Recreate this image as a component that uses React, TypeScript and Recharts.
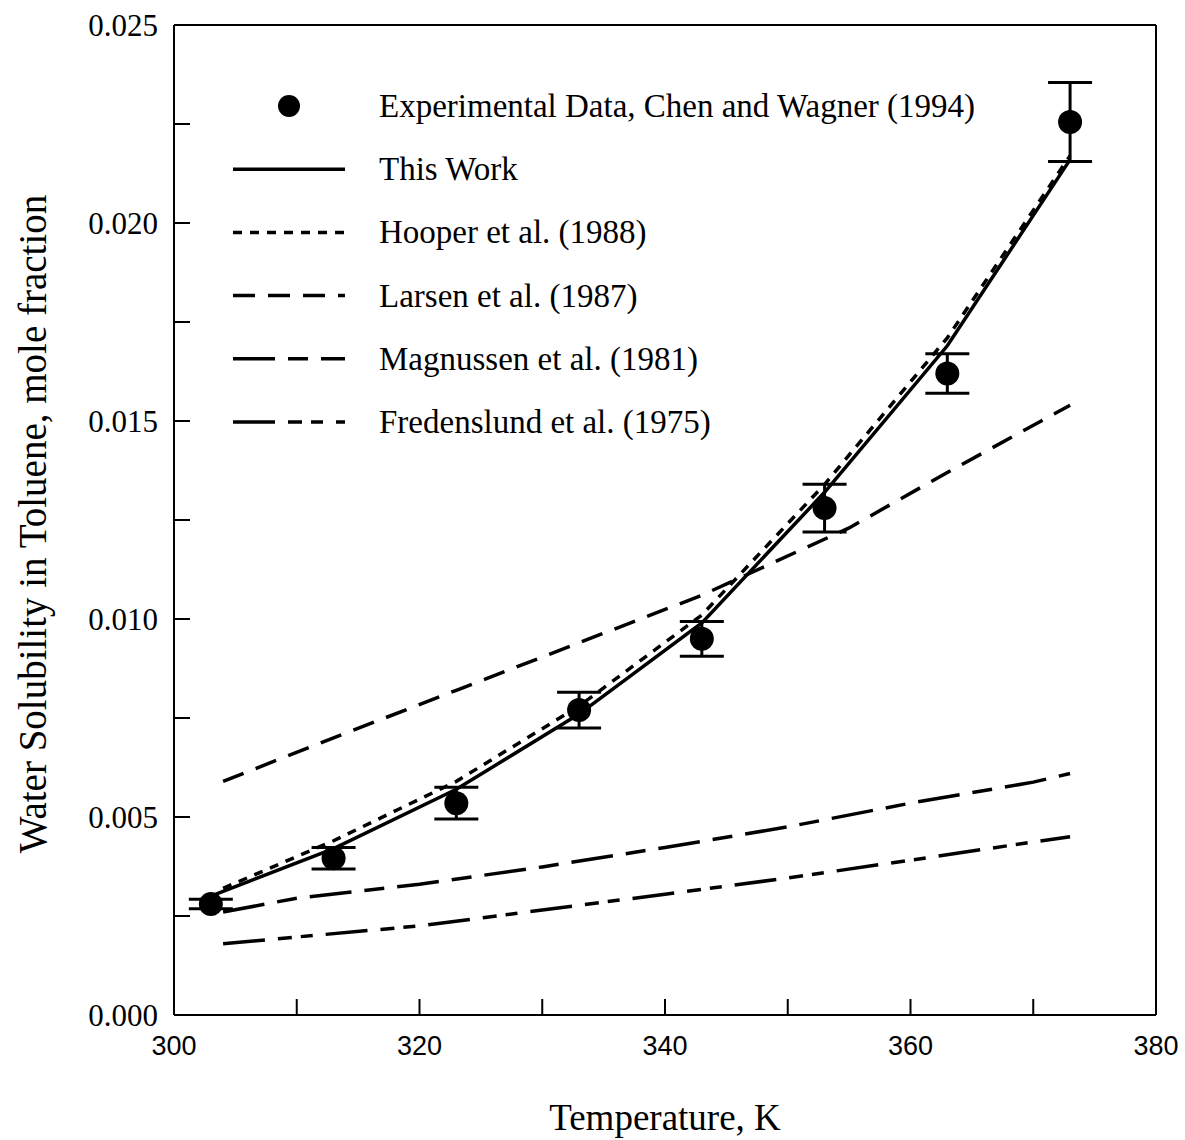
import React from "react";
import {
  ComposedChart,
  Line,
  Scatter,
  ErrorBar,
  XAxis,
  YAxis,
  Legend,
  Label,
} from "recharts";

// axis ticks
const tempTicks = [300, 310, 320, 330, 340, 350, 360, 370, 380];
const solTicks = [
  0, 0.0025, 0.005, 0.0075, 0.01, 0.0125, 0.015, 0.0175, 0.02, 0.0225, 0.025,
];

// experimental data, Chen and Wagner (1994)
const expTemp = [303, 313, 323, 333, 343, 353, 363, 373];
const expSol = [0.0028, 0.00396, 0.00535, 0.0077, 0.0095, 0.0128, 0.0162, 0.02255];
const expErr = [0.00012, 0.00027, 0.0004, 0.00045, 0.00044, 0.0006, 0.0005, 0.001];

// This Work
const workTemp = [303, 313, 323, 333, 343, 353, 363, 373];
const workSol = [0.003, 0.0042, 0.0057, 0.0076, 0.0099, 0.0132, 0.0169, 0.0216];

// Hooper et al. (1988)
const hooperTemp = [304, 313, 323, 333, 343, 353, 363, 373];
const hooperSol = [0.0032, 0.0044, 0.0059, 0.0078, 0.0101, 0.0134, 0.0171, 0.0217];

// Larsen et al. (1987)
const larsenTemp = [304, 313, 323, 333, 343, 355, 363, 373];
const larsenSol = [0.0059, 0.007, 0.0082, 0.0094, 0.0106, 0.0123, 0.0137, 0.0154];

// Magnussen et al. (1981)
const magTemp = [304, 310, 320, 330, 340, 350, 360, 370, 373];
const magSol = [0.0026, 0.00295, 0.0033, 0.00374, 0.00423, 0.00475, 0.00535, 0.00588, 0.0061];

// Fredenslund et al. (1975)
const fredTemp = [304, 310, 320, 330, 340, 350, 360, 370, 373];
const fredSol = [0.0018, 0.00197, 0.00225, 0.00265, 0.00305, 0.00346, 0.00391, 0.00437, 0.0045];

const toRows = (ts: number[], vs: number[]) => ts.map((t, i) => ({ t, v: vs[i] }));
const expRows = expTemp.map((t, i) => ({ t, v: expSol[i], err: expErr[i] }));

const SERIF = "'Liberation Serif', 'Times New Roman', serif";
const SANS = "'Liberation Sans', Arial, sans-serif";
const TICK = 16;

const series = [
  { name: "This Work", rows: toRows(workTemp, workSol), dash: undefined },
  { name: "Hooper et al. (1988)", rows: toRows(hooperTemp, hooperSol), dash: "9 8" },
  { name: "Larsen et al. (1987)", rows: toRows(larsenTemp, larsenSol), dash: "22 13" },
  { name: "Magnussen et al. (1981)", rows: toRows(magTemp, magSol), dash: "42 13 20 13" },
  { name: "Fredenslund et al. (1975)", rows: toRows(fredTemp, fredSol), dash: "42 13 14 9 12 13" },
];

const BottomTick = ({ x, y, payload }: any) => (
  <g>
    <line x1={x} y1={y} x2={x} y2={y - TICK} stroke="#000" strokeWidth={2} />
    {payload.value % 20 === 0 && (
      <text x={x} y={y + 31} textAnchor="middle" dominantBaseline="central"
        fontFamily={SANS} fontSize={27} fill="#000">
        {payload.value}
      </text>
    )}
  </g>
);

const TopTick = ({ x, y }: any) => (
  <line x1={x} y1={y} x2={x} y2={y + TICK} stroke="#000" strokeWidth={2} />
);

const LeftTick = ({ x, y, payload }: any) => {
  const labelled = Math.round(payload.value / 0.0025) % 2 === 0;
  return (
    <g>
      <line x1={x} y1={y} x2={x + TICK} y2={y} stroke="#000" strokeWidth={2} />
      {labelled && (
        <text x={x - 16} y={y} textAnchor="end" dominantBaseline="central"
          fontFamily={SERIF} fontSize={31} fill="#000">
          {payload.value.toFixed(3)}
        </text>
      )}
    </g>
  );
};

const RightTick = ({ x, y }: any) => (
  <line x1={x} y1={y} x2={x - TICK} y2={y} stroke="#000" strokeWidth={2} />
);

const LegendBox = () => {
  const rowY = (i: number) => 26 + i * 63.2;
  return (
    <svg width={820} height={380}>
      <circle cx={69} cy={rowY(0)} r={11} fill="#000" />
      <text x={159} y={rowY(0)} dominantBaseline="central" fontFamily={SERIF} fontSize={33}>
        Experimental Data, Chen and Wagner (1994)
      </text>
      {series.map((s, i) => (
        <g key={s.name}>
          <line x1={13} x2={125} y1={rowY(i + 1)} y2={rowY(i + 1)} stroke="#000"
            strokeWidth={3.5} strokeDasharray={s.dash} />
          <text x={159} y={rowY(i + 1)} dominantBaseline="central" fontFamily={SERIF} fontSize={33}>
            {s.name}
          </text>
        </g>
      ))}
    </svg>
  );
};

export default function App() {
  return (
    <div style={{ position: "absolute", left: 0, top: 0, background: "#fff" }}>
      <ComposedChart width={1185} height={1140} margin={{ top: 15, right: 19, bottom: 65, left: 74 }}>
        <XAxis dataKey="t" type="number" domain={[300, 380]} ticks={tempTicks} interval={0}
          height={60} tickSize={0} tickMargin={0} tickLine={false}
          axisLine={{ stroke: "#000", strokeWidth: 2 }} tick={<BottomTick />}>
          <Label content={({ viewBox }: any) => (
            <text x={viewBox.x + viewBox.width / 2} y={viewBox.y + 102} textAnchor="middle"
              dominantBaseline="central" fontFamily={SERIF} fontSize={37} fill="#000">
              Temperature, K
            </text>
          )} />
        </XAxis>
        <XAxis xAxisId="top" orientation="top" dataKey="t" type="number" domain={[300, 380]}
          ticks={tempTicks} interval={0} height={10} tickSize={0} tickMargin={0} tickLine={false}
          axisLine={{ stroke: "#000", strokeWidth: 2 }} tick={<TopTick />} />
        <YAxis type="number" domain={[0, 0.025]} ticks={solTicks} interval={0} width={100}
          tickSize={0} tickMargin={0} tickLine={false}
          axisLine={{ stroke: "#000", strokeWidth: 2 }} tick={<LeftTick />}>
          <Label content={({ viewBox }: any) => {
            const cx = viewBox.x - 42;
            const cy = viewBox.y + viewBox.height / 2 + 4;
            return (
              <text x={cx} y={cy} textAnchor="middle" dominantBaseline="central"
                transform={`rotate(-90 ${cx} ${cy})`} fontFamily={SERIF} fontSize={39} fill="#000">
                Water Solubility in Toluene, mole fraction
              </text>
            );
          }} />
        </YAxis>
        <YAxis yAxisId="right" orientation="right" type="number" domain={[0, 0.025]}
          ticks={solTicks} interval={0} width={10} tickSize={0} tickMargin={0} tickLine={false}
          axisLine={{ stroke: "#000", strokeWidth: 2 }} tick={<RightTick />} />
        <Legend layout="horizontal" verticalAlign="middle" align="center"
          wrapperStyle={{ left: 220, top: 80, width: 820, height: 380 }}
          content={() => <LegendBox />} />
        {series.map((s) => (
          <Line key={s.name} name={s.name} data={s.rows} dataKey="v" type="linear"
            stroke="#000" strokeWidth={3.5} strokeDasharray={s.dash} dot={false}
            activeDot={false} isAnimationActive={false} />
        ))}
        <Scatter name="Experimental Data, Chen and Wagner (1994)" data={expRows} dataKey="v"
          fill="#000" isAnimationActive={false}
          shape={(p: any) => <circle cx={p.cx} cy={p.cy} r={12} fill="#000" />}>
          <ErrorBar dataKey="err" direction="y" width={22} stroke="#000" strokeWidth={3} />
        </Scatter>
      </ComposedChart>
    </div>
  );
}
